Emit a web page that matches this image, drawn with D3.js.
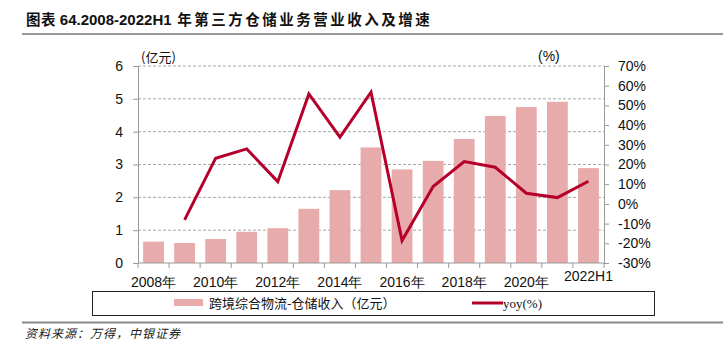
<!DOCTYPE html>
<html><head><meta charset="utf-8">
<script src="https://cdn.jsdelivr.net/npm/d3@7"></script>
<style>body{margin:0;background:#fff}svg{display:block}</style>
</head><body><svg id="c" width="725" height="351"></svg>
<script>
const categories = ["2008","2009","2010","2011","2012","2013","2014","2015","2016","2017","2018","2019","2020","2021","2022H1"];
const tickLabels = ["2008年","","2010年","","2012年","","2014年","","2016年","","2018年","","2020年","","2022H1"];
const revenue = [0.65,0.61,0.73,0.95,1.06,1.65,2.22,3.52,2.85,3.11,3.78,4.48,4.75,4.91,2.89];
const yoy = [null,-8.1,23.2,27.9,11.3,55.8,33.9,56.7,-18.6,8.8,21.5,18.6,5.4,3.2,11.5];
const leftTicks = [0,1,2,3,4,5,6];
const rightTicks = [-30,-20,-10,0,10,20,30,40,50,60,70];

const svg = d3.select("#c");
const L = 138, R = 604, T = 66, B = 263;
const font = "'Liberation Sans', Arial, sans-serif";
const cjk = "'Noto Sans CJK SC', sans-serif";

// title
const title = svg.append("text").attr("x",26).attr("y",25).attr("font-weight","bold").attr("fill","#111");
title.append("tspan").attr("font-family",cjk).attr("font-size",14.5).attr("letter-spacing",0.5).text("图表 ");
title.append("tspan").attr("font-family",font).attr("font-size",15).text("64.2008-2022H1");
title.append("tspan").attr("font-family",cjk).attr("font-size",14.5).attr("letter-spacing",2.5).text(" 年第三方仓储业务营业收入及增速");
svg.append("line").attr("x1",22).attr("x2",723).attr("y1",34).attr("y2",34).attr("stroke","#777").attr("stroke-width",1.5);

const x = d3.scaleBand().domain(categories).range([L,R]).paddingInner(0.33).paddingOuter(0.165);
const y = d3.scaleLinear().domain([0,6]).range([B,T]);
const y2 = d3.scaleLinear().domain([-30,70]).range([B,T]);

// gridlines
svg.append("g").selectAll("line").data(leftTicks.filter(d=>d>0)).join("line")
  .attr("x1",L).attr("x2",R).attr("y1",d=>y(d)).attr("y2",d=>y(d))
  .attr("stroke","#a6a6a6").attr("stroke-dasharray","3,2").attr("stroke-width",1);

// bars
svg.append("g").selectAll("rect").data(revenue).join("rect")
  .attr("x",(d,i)=>x(categories[i])).attr("width",x.bandwidth())
  .attr("y",d=>y(d)).attr("height",d=>B-y(d)).attr("fill","#E8ABAB");

// left axis
const ga = svg.append("g").attr("transform",`translate(${L},0)`)
  .call(d3.axisLeft(y).tickValues(leftTicks).tickSize(5).tickPadding(10).tickFormat(d3.format("d")));
ga.select(".domain").attr("stroke","#999");
ga.selectAll(".tick line").attr("stroke","#999");
ga.selectAll("text").attr("font-family",font).attr("font-size",14).attr("fill","#111");

// right axis
const gr = svg.append("g").attr("transform",`translate(${R},0)`)
  .call(d3.axisRight(y2).tickValues(rightTicks).tickSize(5).tickPadding(9).tickFormat(d=>d+"%"));
gr.select(".domain").attr("stroke","#999");
gr.selectAll(".tick line").attr("stroke","#999");
gr.selectAll("text").attr("font-family",font).attr("font-size",14).attr("fill","#111");

// bottom axis
const bandStep = x.step();
const gb = svg.append("g").attr("transform",`translate(0,${B})`);
gb.append("line").attr("x1",L).attr("x2",R).attr("stroke","#999");
gb.selectAll("line.t").data(d3.range(categories.length+1)).join("line").attr("class","t")
  .attr("x1",i=>L+i*bandStep).attr("x2",i=>L+i*bandStep).attr("y1",0).attr("y2",5).attr("stroke","#999");
gb.selectAll("text").data(categories).join("text")
  .attr("x",d=>x(d)+x.bandwidth()/2)
  .attr("y",(d,i)=>i===categories.length-1?18:24)
  .attr("text-anchor","middle").attr("font-family",font).attr("font-size",14).attr("fill","#111")
  .text((d,i)=>tickLabels[i]);

// line
const line = d3.line().defined(d=>d.v!==null).x(d=>x(d.c)+x.bandwidth()/2).y(d=>y2(d.v));
svg.append("path").datum(categories.map((c,i)=>({c,v:yoy[i]})))
  .attr("d",line).attr("fill","none").attr("stroke","#B5002B").attr("stroke-width",3).attr("stroke-linejoin","miter");

// unit labels
svg.append("text").attr("x",141).attr("y",62).attr("font-family",cjk).attr("font-size",13).attr("fill","#111").text("(亿元)");
svg.append("text").attr("x",538).attr("y",61).attr("font-family",font).attr("font-size",14).attr("fill","#111").text("(%)");

// legend
svg.append("rect").attr("x",92.5).attr("y",291.5).attr("width",562).attr("height",24).attr("fill","none").attr("stroke","#222").attr("stroke-width",1);
svg.append("rect").attr("x",174).attr("y",299).attr("width",29).attr("height",7).attr("fill","#E8ABAB");
svg.append("text").attr("x",209).attr("y",308).attr("font-family",cjk).attr("font-size",13).attr("fill","#111").text("跨境综合物流-仓储收入（亿元）");
svg.append("line").attr("x1",472).attr("x2",503).attr("y1",303).attr("y2",303).attr("stroke","#B5002B").attr("stroke-width",3);
svg.append("text").attr("x",503).attr("y",308).attr("font-family","'Liberation Serif', serif").attr("font-size",13).attr("fill","#111").text("yoy(%)");

// bottom rule & source
svg.append("line").attr("x1",22).attr("x2",723).attr("y1",322.5).attr("y2",322.5).attr("stroke","#888").attr("stroke-width",2);
svg.append("text").attr("x",25).attr("y",338).attr("font-family",cjk).attr("font-size",12).attr("font-style","italic").attr("letter-spacing",1).attr("fill","#222").text("资料来源：万得，中银证券");
</script></body></html>
